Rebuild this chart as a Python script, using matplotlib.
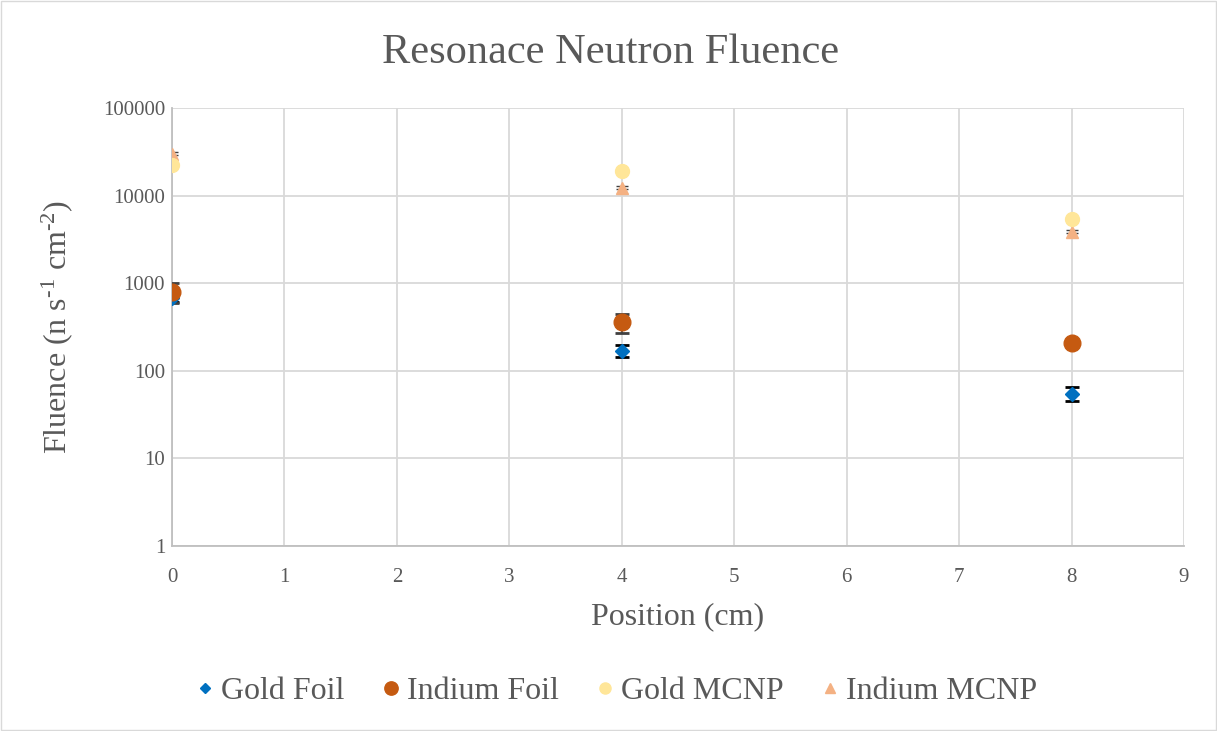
import numpy as np
import matplotlib.pyplot as plt

# positions (cm)
pos = [0, 4, 8]

gold_foil = [680, 170, 55]
gold_foil_err = [70, 28, 10]
indium_foil = [800, 360, 205]
indium_foil_err = [200, 90, 15]
gold_mcnp = [22500, 19000, 5400]
indium_mcnp = [30000, 12300, 3850]
indium_mcnp_err = [1200, 500, 150]

plt.rcParams['font.family'] = ['Liberation Serif', 'DejaVu Serif']
plt.rcParams['mathtext.fontset'] = 'custom'
plt.rcParams['mathtext.rm'] = 'Liberation Serif'
plt.rcParams['mathtext.default'] = 'regular'

fig = plt.figure(figsize=(12.17, 7.31), dpi=100)
ax = fig.add_axes([172 / 1217, 1 - 546 / 731, (1184 - 172) / 1217, (546 - 108) / 731])

grey = '#595959'
ax.errorbar(pos, indium_mcnp, yerr=indium_mcnp_err, fmt='^', color='#f4b183', ms=9,
            ecolor='#404040', elinewidth=1.2, capsize=4, label='Indium MCNP', zorder=3)
ax.errorbar(pos, gold_mcnp, fmt='o', color='#ffe699', ms=10, label='Gold MCNP', zorder=3)
ax.errorbar(pos, gold_foil, yerr=gold_foil_err, fmt='D', color='#0070c0', ms=7,
            ecolor='black', elinewidth=1.5, capsize=5, capthick=2, label='Gold Foil', zorder=4)
ax.errorbar(pos, indium_foil, yerr=indium_foil_err, fmt='o', color='#c55a11', ms=12,
            ecolor='#404040', elinewidth=1.2, capsize=5, capthick=2, label='Indium Foil', zorder=4)

ax.set_yscale('log')
ax.set_ylim(1, 100000)
ax.set_xlim(0, 9)
ax.set_xticks(range(10))
ax.set_yticks([1, 10, 100, 1000, 10000, 100000])
ax.set_yticklabels(['1', '10', '100', '1000', '10000', '100000'])
ax.minorticks_off()
ax.tick_params(length=0, labelsize=15, labelcolor=grey)
ax.tick_params(axis='y', pad=5)
ax.tick_params(axis='x', pad=16)
ax.grid(True, color='#d9d9d9', linewidth=1.3)
ax.set_axisbelow(True)
for s in ['top', 'right']:
    ax.spines[s].set_visible(False)
for s in ['left', 'bottom']:
    ax.spines[s].set_color('#bfbfbf')
    ax.spines[s].set_linewidth(1.3)

ax.set_xlabel('Position (cm)', fontsize=23, color=grey, labelpad=11)
ax.set_ylabel(r'Fluence (n s$^{\text{-}1}$ cm$^{\text{-}2}$)', fontsize=23, color=grey,
              labelpad=20)
fig.text(611 / 1217, 1 - 53 / 731, 'Resonace Neutron Fluence', fontsize=30.5, color=grey,
         ha='center', va='center')

handles, labels = ax.get_legend_handles_labels()
order = [2, 3, 1, 0]
leg = fig.legend([handles[i][0] for i in order], [labels[i] for i in order],
                 loc='center', bbox_to_anchor=(617 / 1217, 1 - 691 / 731), ncol=4,
                 frameon=False, fontsize=23, markerscale=0.8, handlelength=0.5,
                 handletextpad=0.25, columnspacing=1.2)
for t in leg.get_texts():
    t.set_color(grey)

fig.patches.append(plt.Rectangle((0.001, 0.001), 0.998, 0.998, transform=fig.transFigure,
                                 fill=False, edgecolor='#d9d9d9', linewidth=1))

fig.savefig('out.png', dpi=100)
